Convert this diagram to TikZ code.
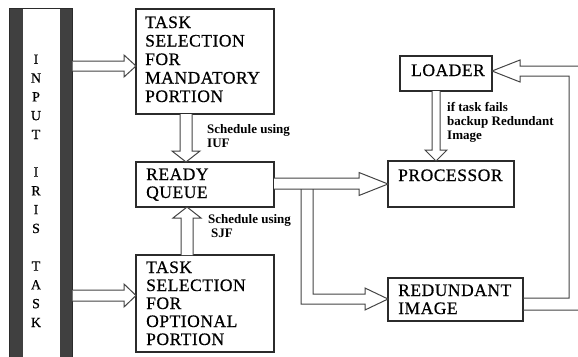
\documentclass[tikz,border=0pt]{standalone}
\usepackage{fontspec}
\setmainfont{Liberation Serif}
\newfontfamily\boxfont[LetterSpace=3,FakeBold=0.6]{Liberation Serif}
\newfontfamily\barfont[FakeBold=0.5]{Liberation Serif}
\usetikzlibrary{calc}
\definecolor{boxline}{HTML}{2B2B2B}
\definecolor{arrline}{HTML}{444444}
\definecolor{bardark}{HTML}{404040}
\begin{document}
\begin{tikzpicture}[x=1pt,y=-1pt,
  box/.style={draw=boxline, line width=1.3pt, inner sep=0pt, outer sep=0pt, anchor=north west, fill=white},
  boxtext/.style={inner sep=0pt, anchor=base west, font=\boxfont\fontsize{17.5}{18}\selectfont},
  lbl/.style={inner sep=0pt, anchor=base west, font=\bfseries\fontsize{13}{14}\selectfont},
  harrow/.style={draw=arrline, line width=1pt, fill=white, line join=miter},
  hline/.style={draw=arrline, line width=1pt, line join=miter},
]
\useasboundingbox (0,0) rectangle (578,356);
\clip (0,0) rectangle (578,356);

% input bar
\node[inner sep=0pt, outer sep=0pt, anchor=north west, minimum width=63.2, minimum height=360] (bar) at (9.5,8) {};
\fill[bardark] (bar.north west) rectangle ($(bar.south west)+(13.2,0)$);
\fill[bardark] ($(bar.north east)+(-12.7,0)$) rectangle (bar.south east);
\draw[boxline, line width=0.8pt] (bar.north west) rectangle (bar.south east);
\node[font=\barfont\fontsize{14}{18.8}\selectfont, inner sep=0pt, anchor=base] (bartxt) at (36,63.8)
  {\begin{tabular}[t]{@{}c@{}}I\\N\\P\\U\\T\\ \\I\\R\\I\\S\\ \\T\\A\\S\\K\end{tabular}};

% boxes
\node[box, minimum width=138, minimum height=105] (b1) at (136,9) {};
\node[box, minimum width=138, minimum height=45] (rq) at (136,162) {};
\node[box, minimum width=138, minimum height=97] (b2) at (136,255) {};
\node[box, minimum width=126, minimum height=46] (proc) at (388,161) {};
\node[box, minimum width=92, minimum height=35] (load) at (400,56) {};
\node[box, minimum width=135, minimum height=43] (red) at (388,278) {};

% box texts
\node[boxtext, font=\boxfont\fontsize{17.5}{18.5}\selectfont] (b1t) at (145,28)
  {\begin{tabular}[t]{@{}l@{}}TASK\\SELECTION\\FOR\\MANDATORY\\PORTION\end{tabular}};
\node[boxtext] (rqt) at (146,180)
  {\begin{tabular}[t]{@{}l@{}}READY\\QUEUE\end{tabular}};
\node[boxtext] (b2t) at (146,273)
  {\begin{tabular}[t]{@{}l@{}}TASK\\SELECTION\\FOR\\OPTIONAL\\PORTION\end{tabular}};
\node[boxtext] (proct) at (398,181) {PROCESSOR};
\node[boxtext] (loadt) at (411,76) {LOADER};
\node[boxtext] (redt) at (398,296)
  {\begin{tabular}[t]{@{}l@{}}REDUNDANT\\IMAGE\end{tabular}};

% labels
\node[lbl] (l1) at (207,133) {\begin{tabular}[t]{@{}l@{}}Schedule using\\IUF\end{tabular}};
\node[lbl] (l2) at (208,223) {\begin{tabular}[t]{@{}l@{}}Schedule using\\\hspace{3pt}SJF\end{tabular}};
\node[lbl] (l3) at (447,111) {\begin{tabular}[t]{@{}l@{}}if task fails\\backup Redundant\\Image\end{tabular}};

% hollow arrows
\draw[harrow] (bar.east |- 0,61) -- (124,61) -- (124,55) -- (b1.west |- 0,66) -- (124,77) -- (124,71) -- (bar.east |- 0,71);
\draw[harrow] (bar.east |- 0,290) -- (124,290) -- (124,284) -- (b2.west |- 0,295.5) -- (124,307) -- (124,301) -- (bar.east |- 0,301);
\draw[harrow] (180,0 |- b1.south) -- (180,151) -- (172,151) -- (186,0 |- rq.north) -- (200,151) -- (192,151) -- (192,0 |- b1.south);
\draw[harrow] (181,0 |- b2.north) -- (181,218) -- (173,218) -- (187,0 |- rq.south) -- (201,218) -- (193,218) -- (193,0 |- b2.north);
\draw[harrow] (rq.east |- 0,178) -- (359,178) -- (359,172.5) -- (proc.west |- 0,184) -- (359,195.5) -- (359,189) -- (rq.east |- 0,189);
\draw[hline] (301,189) -- (301,304) -- (365,304) -- (365,310) -- (red.west |- 0,299) -- (365,288) -- (365,294) -- (313,294) -- (313,189);
\draw[harrow] (432,0 |- load.south) -- (432,150) -- (425,150) -- (436,0 |- proc.north) -- (447,150) -- (440,150) -- (440,0 |- load.south);
\draw[hline] (red.east |- 0,298) -- (569,298) -- (569,76) -- (520,76) -- (520,82) -- (load.east |- 0,71) -- (520,60) -- (520,66) -- (582,66) -- (582,310) -- (red.east |- 0,310);
\end{tikzpicture}
\end{document}
